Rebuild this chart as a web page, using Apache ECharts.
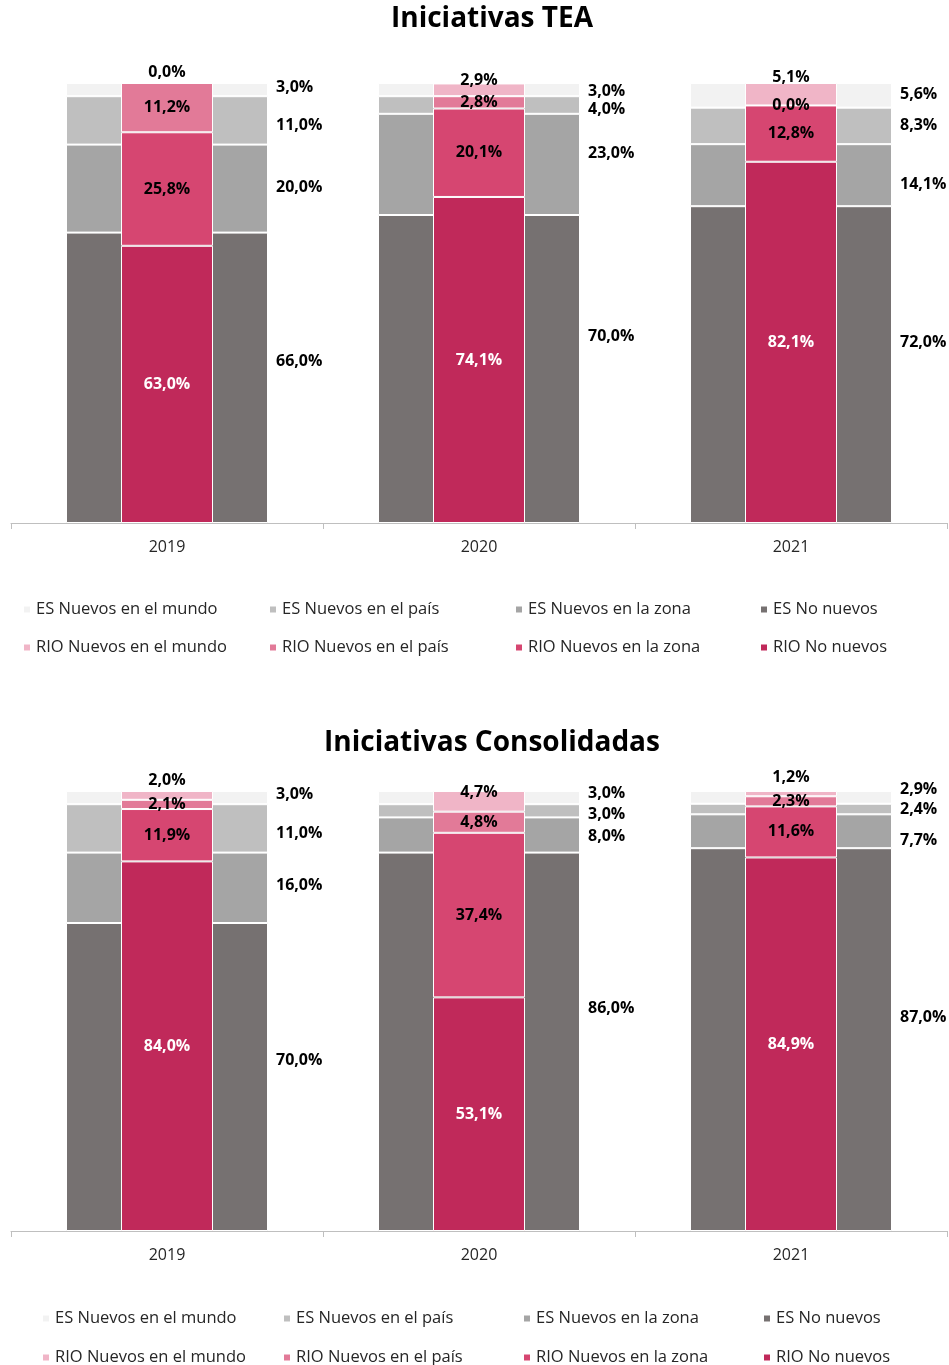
<!DOCTYPE html>
<html lang="es">
<head>
<meta charset="utf-8">
<title>Iniciativas TEA y Consolidadas</title>
<script src="https://cdn.jsdelivr.net/npm/echarts@6/dist/echarts.min.js"></script>
<style>
  html, body { margin: 0; padding: 0; background: #ffffff; }
  #chart { width: 949px; height: 1365px; }
</style>
</head>
<body>
<div id="chart"></div>
<script>
// Categories
const years = ['2019', '2020', '2021'];

// Iniciativas TEA (%)
const teaEsNoNuevos = [66.0, 70.0, 72.0];
const teaEsZona = [20.0, 23.0, 14.1];
const teaEsPais = [11.0, 4.0, 8.3];
const teaEsMundo = [3.0, 3.0, 5.6];
const teaRioNoNuevos = [63.0, 74.1, 82.1];
const teaRioZona = [25.8, 20.1, 12.8];
const teaRioPais = [11.2, 2.8, 0.0];
const teaRioMundo = [0.0, 2.9, 5.1];

// Iniciativas Consolidadas (%)
const conEsNoNuevos = [70.0, 86.0, 87.0];
const conEsZona = [16.0, 8.0, 7.7];
const conEsPais = [11.0, 3.0, 2.4];
const conEsMundo = [3.0, 3.0, 2.9];
const conRioNoNuevos = [84.0, 53.1, 84.9];
const conRioZona = [11.9, 37.4, 11.6];
const conRioPais = [2.1, 4.8, 2.3];
const conRioMundo = [2.0, 4.7, 1.2];

// Series names (legend text)
const esNames = ['ES Nuevos en el mundo', 'ES Nuevos en el país', 'ES Nuevos en la zona', 'ES No nuevos'];
const rioNames = ['RIO Nuevos en el mundo', 'RIO Nuevos en el país', 'RIO Nuevos en la zona', 'RIO No nuevos'];

// Palette: mundo, país, zona, no nuevos
const esColors = ['#f2f2f2', '#bfbfbf', '#a5a5a5', '#767171'];
const rioColors = ['#f0b5c7', '#e27a98', '#d64671', '#c0295a'];

// Hand-placed vertical label nudges (px), per chart / series / year
const nudges = {
  tea: {
    es: { mundo: [-2, 2, -1], pais: [5, 4, 0], zona: [-1, -11, 9], no: [-16, -33, -22] },
    rioMundo: [-2, 5, 2]
  },
  con: {
    es: { mundo: [-3, -4, -8], pais: [5, 4, 0], zona: [-2, 1, 9], no: [-17, -33, -22] },
    rioMundo: [-3, 9, -6]
  }
};

const FONT = '"Open Sans", "Noto Sans", sans-serif';
const fmt = p => p.value.toFixed(1).replace('.', ',') + '%';

function withNudge(values, dy) {
  return values.map((v, i) => ({ value: v, label: { offset: [0, dy ? dy[i] : 0] } }));
}

function esSeries(name, values, color, xIdx, yIdx, stack, dy) {
  return {
    name: name, type: 'bar', stack: stack,
    xAxisIndex: xIdx, yAxisIndex: yIdx,
    barWidth: 202,
    itemStyle: { color: color, borderColor: '#ffffff', borderWidth: 1 },
    label: {
      show: true, position: 'right', distance: 8,
      formatter: fmt, color: '#000000', fontFamily: FONT, fontWeight: 'bold', fontSize: 16
    },
    data: withNudge(values, dy)
  };
}

function rioSeries(name, values, color, xIdx, yIdx, stack, pos, labelColor, dy) {
  return {
    name: name, type: 'bar', stack: stack,
    xAxisIndex: xIdx, yAxisIndex: yIdx,
    barWidth: 92,
    itemStyle: { color: color, borderColor: '#ffffff', borderWidth: 1 },
    label: {
      show: true, position: pos, distance: 0,
      formatter: fmt, color: labelColor, fontFamily: FONT, fontWeight: 'bold', fontSize: 16
    },
    data: withNudge(values, dy)
  };
}

function buildCharts(d, xEs, xRio, yIdx, key) {
  const n = nudges[key];
  return [
    esSeries(esNames[3], d.esNo, esColors[3], xEs, yIdx, key + 'Es', n.es.no),
    esSeries(esNames[2], d.esZona, esColors[2], xEs, yIdx, key + 'Es', n.es.zona),
    esSeries(esNames[1], d.esPais, esColors[1], xEs, yIdx, key + 'Es', n.es.pais),
    esSeries(esNames[0], d.esMundo, esColors[0], xEs, yIdx, key + 'Es', n.es.mundo),
    rioSeries(rioNames[3], d.rioNo, rioColors[3], xRio, yIdx, key + 'Rio', 'inside', '#ffffff'),
    rioSeries(rioNames[2], d.rioZona, rioColors[2], xRio, yIdx, key + 'Rio', 'inside', '#000000'),
    rioSeries(rioNames[1], d.rioPais, rioColors[1], xRio, yIdx, key + 'Rio', 'inside', '#000000'),
    rioSeries(rioNames[0], d.rioMundo, rioColors[0], xRio, yIdx, key + 'Rio', 'top', '#000000', n.rioMundo)
  ];
}

const series = [].concat(
  buildCharts({
    esNo: teaEsNoNuevos, esZona: teaEsZona, esPais: teaEsPais, esMundo: teaEsMundo,
    rioNo: teaRioNoNuevos, rioZona: teaRioZona, rioPais: teaRioPais, rioMundo: teaRioMundo
  }, 0, 1, 0, 'tea'),
  buildCharts({
    esNo: conEsNoNuevos, esZona: conEsZona, esPais: conEsPais, esMundo: conEsMundo,
    rioNo: conRioNoNuevos, rioZona: conRioZona, rioPais: conRioPais, rioMundo: conRioMundo
  }, 2, 3, 1, 'con')
);

function shownAxis(gridIndex) {
  return {
    type: 'category', gridIndex: gridIndex, data: years,
    axisLine: { lineStyle: { color: '#bfbfbf', width: 1 } },
    axisTick: { show: true, length: 6, lineStyle: { color: '#bfbfbf' } },
    axisLabel: { color: '#262626', fontFamily: FONT, fontSize: 16, margin: 16 }
  };
}
function hiddenAxis(gridIndex) {
  return { type: 'category', gridIndex: gridIndex, data: years, show: false };
}
function valueAxis(gridIndex) {
  return { type: 'value', gridIndex: gridIndex, min: 0, max: 100, show: false, splitLine: { show: false } };
}

// One legend component per entry so the columns line up
const legendCols = [22, 268, 514, 759];
const legendCols2 = [41, 282, 522, 762];
function legendItem(name, left, top) {
  return {
    data: [name], left: left, top: top, padding: 0,
    icon: 'rect', itemWidth: 8, itemHeight: 8, selectedMode: false,
    textStyle: { color: '#262626', fontFamily: FONT, fontSize: 16.5 }
  };
}
const legends = [];
[0, 1, 2, 3].forEach(i => {
  legends.push(legendItem(esNames[i], legendCols[i], 601));
  legends.push(legendItem(rioNames[i], legendCols[i], 639));
  legends.push(legendItem(esNames[i], legendCols2[i], 1310));
  legends.push(legendItem(rioNames[i], legendCols2[i], 1349));
});

const option = {
  animation: false,
  backgroundColor: '#ffffff',
  title: [
    { text: 'Iniciativas TEA', left: 492, top: 5, textAlign: 'center', padding: 0,
      textStyle: { fontFamily: FONT, fontWeight: 'bold', fontSize: 28, color: '#000000' } },
    { text: 'Iniciativas Consolidadas', left: 492, top: 729, textAlign: 'center', padding: 0,
      textStyle: { fontFamily: FONT, fontWeight: 'bold', fontSize: 28, color: '#000000' } }
  ],
  legend: legends,
  grid: [
    { left: 11, right: 2, top: 83, height: 440 },
    { left: 11, right: 2, top: 791, height: 440 }
  ],
  xAxis: [shownAxis(0), hiddenAxis(0), shownAxis(1), hiddenAxis(1)],
  yAxis: [valueAxis(0), valueAxis(1)],
  series: series
};

const chart = echarts.init(document.getElementById('chart'), null, { renderer: 'canvas' });
chart.setOption(option);
</script>
</body>
</html>
